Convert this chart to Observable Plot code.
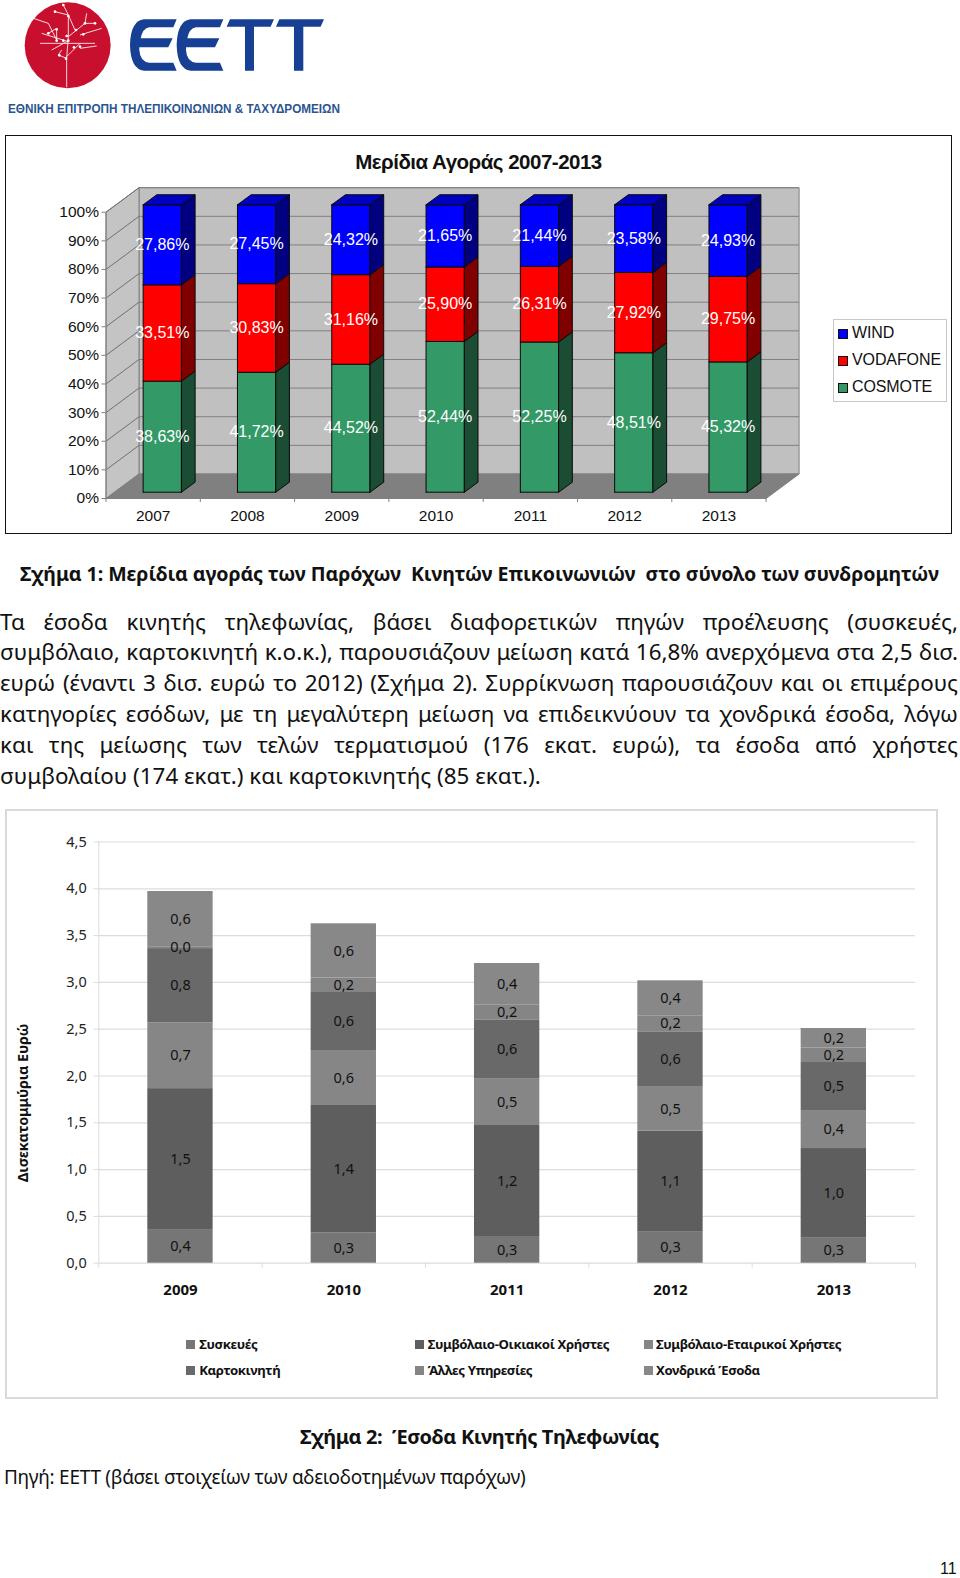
<!DOCTYPE html>
<html lang="el">
<head>
<meta charset="utf-8">
<script src="https://cdn.jsdelivr.net/npm/d3@7"></script>
<script src="https://cdn.jsdelivr.net/npm/@observablehq/plot@0.6"></script>
<style>
html,body{margin:0;padding:0;background:#fff}
body{position:relative;width:960px;height:1578px;overflow:hidden;font-family:"Open Sans","Noto Sans",sans-serif;color:#111}
.abs{position:absolute}
svg{position:absolute;background:none;overflow:visible}
.line{position:absolute;left:0;width:958px;line-height:30px;height:30px;text-align:justify;text-align-last:justify;white-space:normal}
.ar{font-family:"Liberation Sans",Arial,sans-serif}
.cal{font-family:"Noto Sans",sans-serif}
.sw{position:absolute;width:9px;height:9px}
.lg{position:absolute;font-size:13.2px;font-weight:700;line-height:18px;white-space:nowrap;font-family:"Noto Sans",sans-serif;letter-spacing:-.4px}
</style>
</head>
<body>
<div id="page"></div>
<script>
// ---- Chart 1: market shares
const years1 = ["2007","2008","2009","2010","2011","2012","2013"];
const cosmote = [38.63,41.72,44.52,52.44,52.25,48.51,45.32];
const vodafone = [33.51,30.83,31.16,25.90,26.31,27.92,29.75];
const wind = [27.86,27.45,24.32,21.65,21.44,23.58,24.93];
const pctTicks = [0,10,20,30,40,50,60,70,80,90,100];

// ---- Chart 2: revenue (billion euro)
const years2 = ["2009","2010","2011","2012","2013"];
const devices = [0.352,0.325,0.285,0.331,0.267];
const residential = [1.513,1.36,1.186,1.079,0.958];
const business = [0.701,0.587,0.495,0.47,0.406];
const prepaid = [0.795,0.62,0.634,0.592,0.513];
const otherServices = [0.02,0.155,0.156,0.171,0.156];
const wholesale = [0.59,0.579,0.446,0.374,0.207];
const revTicks = [0,0.5,1,1.5,2,2.5,3,3.5,4,4.5];
const seriesNames = ["Συσκευές","Συμβόλαιο-Οικιακοί Χρήστες","Συμβόλαιο-Εταιρικοί Χρήστες","Καρτοκινητή","Άλλες Υπηρεσίες","Χονδρικά Έσοδα"];
const seriesGrays = ["#767676","#5e5e5e","#868686","#696969","#858585","#888888"];

const bodyLines = [
 "Τα έσοδα κινητής τηλεφωνίας, βάσει διαφορετικών πηγών προέλευσης (συσκευές,",
 "συμβόλαιο, καρτοκινητή κ.ο.κ.), παρουσιάζουν μείωση κατά 16,8% ανερχόμενα στα 2,5 δισ.",
 "ευρώ (έναντι 3 δισ. ευρώ το 2012) (Σχήμα 2). Συρρίκνωση παρουσιάζουν και οι επιμέρους",
 "κατηγορίες εσόδων, με τη μεγαλύτερη μείωση να επιδεικνύουν τα χονδρικά έσοδα, λόγω",
 "και της μείωσης των τελών τερματισμού (176 εκατ. ευρώ), τα έσοδα από χρήστες",
 "συμβολαίου (174 εκατ.) και καρτοκινητής (85 εκατ.)."
];

const page = document.getElementById("page");
function el(html){const t=document.createElement("template");t.innerHTML=html.trim();const n=t.content.firstChild;page.appendChild(n);return n;}

// ---- Logo
const treePaths = "M200 262V175L205 110V45L190 15M205 45L165 35M200 170L240 130M120 130H285M125 100L205 125M100 55L145 70L170 120V85M205 110L255 70H285M255 70L260 40M240 105L305 85M240 145L290 138M175 165L200 175M175 165L185 150M155 150L200 125M170 85L145 100M225 90L205 45";
const treeDots = [[190,15],[205,48],[165,35],[255,70],[285,70],[170,88],[145,100],[200,108],[170,122],[190,122],[205,122],[228,90],[250,103],[240,140],[222,142],[178,166],[198,176]];
el(`<svg style="left:0;top:0" width="350" height="120" viewBox="0 0 350 120">
<g transform="scale(.3333)">
<circle cx="203" cy="136" r="129" fill="#c8102e"/>
<path d="${treePaths}" fill="none" stroke="#fff" stroke-width="2.5"/>
${treeDots.map(d=>`<circle cx="${d[0]}" cy="${d[1]}" r="4" fill="#fff"/>`).join("")}
<g fill="#173f94">
<path d="M530 58H432Q392 62 390 135Q392 208 432 212H530L520 188H448Q420 185 418 150Q418 148 418 142H505L518 115H422Q428 85 448 82H520Z"/>
<path d="M670 58H572Q532 62 530 135Q532 208 572 212H670L660 188H588Q560 185 558 150Q558 148 558 142H645L658 115H562Q568 85 588 82H660Z"/>
<path d="M690 58H822L812 80H762V212H735V80H680Z"/>
<path d="M838 58H972L962 80H910V212H882V80H828Z"/>
</g></g>
<text x="8" y="113" font-family="Liberation Sans" font-weight="700" font-size="13.5" fill="#2b5590" textLength="332" lengthAdjust="spacingAndGlyphs">ΕΘΝΙΚΗ ΕΠΙΤΡΟΠΗ ΤΗΛΕΠΙΚΟΙΝΩΝΙΩΝ &amp; ΤΑΧΥΔΡΟΜΕΙΩΝ</text>
</svg>`);

// ---- Frames
el(`<div class="abs" style="left:5px;top:135px;width:945px;height:397px;border:1.5px solid #111;box-sizing:content-box"></div>`);
el(`<div class="abs" style="left:5px;top:809px;width:929px;height:586px;border:2px solid #d9d9d9"></div>`);

// ---- Chart 1 titles and legend
el(`<div class="abs ar" style="left:6px;top:150px;width:945px;text-align:center;font-size:20.5px;font-weight:700;letter-spacing:-.5px;color:#111">Μερίδια Αγοράς 2007-2013</div>`);
el(`<div class="abs" style="left:833px;top:319px;width:112px;height:81px;border:1px solid #c8c8c8"></div>`);
[["WIND","#0000ff",332.5],["VODAFONE","#ff0000",360],["COSMOTE","#339966",387]].forEach(([t,c,y])=>{
  el(`<div class="abs" style="left:838px;top:${y-4}px;width:8px;height:8px;background:${c};border:1px solid #111"></div>`);
  el(`<div class="abs ar" style="left:852px;top:${y-10}px;font-size:16px;line-height:20px;letter-spacing:-.1px;color:#111">${t}</div>`);
});

// ---- Chart 1: pseudo 3-D stacked bars
const dx = 0.35, dy = 8.56;        // depth of the wall box, in scale units
const bx = 0.394, bw = 0.406;      // front of each bar inside its category
const bdx = 0.145, bdy = 3.5;      // depth of each bar
const by0 = 2.2, bk = 1.004;       // foot of each bar and stretch

function poly(id, fill, pts){ return pts.concat([pts[0]]).map(([x,y])=>({id,fill,x,y})); }
const wallPolys = [
  ...poly("back","#c0c0c0",[[dx,dy],[7+dx,dy],[7+dx,100+dy],[dx,100+dy]]),
  ...poly("side","#c4c4c4",[[0,0],[dx,dy],[dx,100+dy],[0,100]]),
  ...poly("floor","#808080",[[0,0],[7,0],[7+dx,dy],[dx,dy]])
];
const barPolys = [];
const barLabels = [];
const shades = {cosmote:["#339966","#1a4d33","#26734d"],vodafone:["#ff0000","#800000","#c00000"],wind:["#0000ff","#000080","#0000c0"]};
years1.forEach((yr,i)=>{
  let acc = 0;
  [["cosmote",cosmote],["vodafone",vodafone],["wind",wind]].forEach(([name,arr])=>{
    const v = arr[i];
    const a = by0 + acc*bk, b = by0 + (acc+v)*bk;
    const [f,s,t] = shades[name];
    const l = i+bx, r = l+bw;
    barPolys.push(...poly(`${yr}${name}f`,f,[[l,a],[r,a],[r,b],[l,b]]));
    barPolys.push(...poly(`${yr}${name}s`,s,[[r,a],[r+bdx,a+bdy],[r+bdx,b+bdy],[r,b]]));
    if(name==="wind") barPolys.push(...poly(`${yr}${name}t`,t,[[l,b],[r,b],[r+bdx,b+bdy],[l+bdx,b+bdy]]));
    barLabels.push({x:l+bw/2,y:(a+b)/2,t:v.toFixed(2).replace(".",",")+"%"});
    acc += v;
  });
});
const c1 = Plot.plot({
  width:960,height:400,
  marginLeft:105.5,marginRight:194.4,marginTop:76.7,marginBottom:37,
  x:{domain:[0,7],axis:null},
  y:{domain:[0,100],axis:null},
  color:{type:"identity"},
  style:{fontFamily:"Liberation Sans, Arial, sans-serif",fontSize:"15px",background:"none",overflow:"visible"},
  marks:[
    Plot.line(wallPolys,{x:"x",y:"y",z:"id",fill:"fill",stroke:"#808080",strokeWidth:1}),
    Plot.link(pctTicks.slice(1),{x1:dx,x2:7+dx,y1:d=>d+dy,y2:d=>d+dy,stroke:"#808080",strokeWidth:1}),
    Plot.link(pctTicks.slice(1),{x1:0,x2:dx,y1:d=>d,y2:d=>d+dy,stroke:"#707070",strokeWidth:1}),
    Plot.ruleX([0],{y1:0,y2:100,stroke:"#808080"}),
    Plot.axisY(pctTicks,{anchor:"left",label:null,tickSize:4,tickPadding:3,tickFormat:d=>d+"%",stroke:"#808080",fill:"#111",fontSize:15.5}),
    Plot.axisX([0,1,2,3,4,5,6,7],{anchor:"bottom",label:null,tickSize:4,tickFormat:()=>"",stroke:"#808080"}),
    Plot.axisX(years1.map((d,i)=>i+.5),{anchor:"bottom",label:null,tickSize:0,tickPadding:11,tickFormat:d=>years1[d-.5],fill:"#111",fontSize:15.5}),
    Plot.line(barPolys,{x:"x",y:"y",z:"id",fill:"fill",stroke:"#0a0a0a",strokeWidth:1}),
    Plot.text(barLabels,{x:"x",y:"y",text:"t",fill:"#fff",fontSize:16})
  ]
});
c1.style.left="0";c1.style.top="135px";
page.appendChild(c1);

// ---- Text block
el(`<div class="abs cal" style="left:20px;top:559px;width:925px;height:30px;line-height:30px;font-size:19.6px;font-weight:700;white-space:nowrap;letter-spacing:-.08px;color:#111">Σχήμα 1: Μερίδια αγοράς των Παρόχων&nbsp; Κινητών Επικοινωνιών&nbsp; στο σύνολο των συνδρομητών</div>`);
bodyLines.forEach((t,i)=>{
  const top = 606.5 + i*30.9;
  const last = i===bodyLines.length-1;
  el(`<div class="line cal" style="top:${top}px;${last?"text-align-last:left;":""}font-size:22.4px">${t}</div>`);
});

// ---- Chart 2: stacked bars
const rows = [], labels = [];
years2.forEach((yr,i)=>{
  let acc = 0;
  [devices,residential,business,prepaid,otherServices,wholesale].forEach((arr,s)=>{
    const v = arr[i];
    rows.push({i,series:seriesNames[s],y1:acc,y2:acc+v,fill:seriesGrays[s]});
    labels.push({x:i+.5,y:acc+v/2,t:v.toFixed(1).replace(".",",")});
    acc += v;
  });
});
const c2 = Plot.plot({
  width:960,height:470,
  marginLeft:98.3,marginRight:45,marginTop:11.5,marginBottom:37.3,
  x:{domain:[0,5],axis:null},
  y:{domain:[0,4.5],axis:null},
  color:{type:"identity"},
  style:{fontFamily:"Noto Sans, sans-serif",fontSize:"15px",background:"none",overflow:"visible"},
  marks:[
    Plot.ruleY(revTicks,{x1:0,x2:5,stroke:"#dcdcdc",strokeWidth:1.2}),
    Plot.ruleX([0],{y1:0,y2:4.5,stroke:"#dcdcdc"}),
    Plot.axisY(revTicks,{anchor:"left",label:null,tickSize:5,tickPadding:7,tickFormat:d=>d.toFixed(1).replace(".",","),stroke:"#dcdcdc",fill:"#222",fontSize:14.5}),
    Plot.axisX([0,1,2,3,4,5],{anchor:"bottom",label:null,tickSize:5,tickFormat:()=>"",stroke:"#dcdcdc"}),
    Plot.axisX(years2.map((d,i)=>i+.5),{anchor:"bottom",label:null,tickSize:0,tickPadding:21,tickFormat:d=>years2[d-.5],fill:"#111",fontWeight:700,fontSize:15}),
    Plot.rect(rows,{x1:d=>d.i+.3,x2:d=>d.i+.7,y1:"y1",y2:"y2",fill:"fill"}),
    Plot.text(labels,{x:"x",y:"y",text:"t",fill:"#111",fontSize:14.5})
  ]
});
c2.style.left="0";c2.style.top="830px";
page.appendChild(c2);

el(`<div class="abs cal" style="left:13px;top:1103px;width:0;height:0;"><div style="position:absolute;left:0;top:0;transform:translate(-50%,-50%) rotate(-90deg) translateY(9px);white-space:nowrap;font-size:14.5px;font-weight:700;color:#111;letter-spacing:-.2px">Δισεκατομμύρια Ευρώ</div></div>`);

// Chart 2 legend
const lgPos = [[186,199.3,1344.3],[414.7,427.7,1344.3],[644,656,1344.3],[186,199.3,1370],[414.7,427.7,1370],[644,656,1370]];
[0,1,2,3,4,5].forEach(k=>{
  const [sx,tx,y]=lgPos[k];
  el(`<div class="sw" style="left:${sx}px;top:${y-4.5}px;background:${seriesGrays[k]}"></div>`);
  el(`<div class="lg" style="left:${tx}px;top:${y-9}px;color:#111">${seriesNames[k]}</div>`);
});

// ---- Bottom text
el(`<div class="abs cal" style="left:300px;top:1422px;height:30px;line-height:30px;font-size:20px;font-weight:700;white-space:nowrap;letter-spacing:-.4px;color:#111">Σχήμα 2:&nbsp; Έσοδα Κινητής Τηλεφωνίας</div>`);
el(`<div class="abs cal" style="left:4px;top:1462px;height:30px;line-height:30px;font-size:19px;white-space:nowrap;letter-spacing:-.27px;color:#111">Πηγή: ΕΕΤΤ (βάσει στοιχείων των αδειοδοτημένων παρόχων)</div>`);
el(`<div class="abs ar" style="left:940px;top:1559px;height:20px;line-height:20px;font-size:16px;color:#111">11</div>`);
</script>
</body>
</html>
